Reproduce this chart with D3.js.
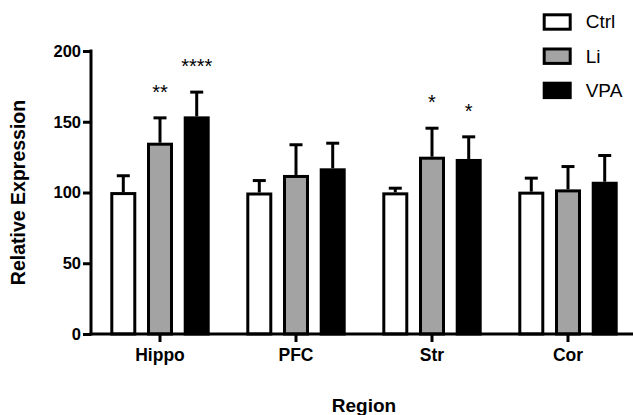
<!DOCTYPE html>
<html><head><meta charset="utf-8">
<script src="https://cdn.jsdelivr.net/npm/d3@7"></script>
<style>
html,body{margin:0;padding:0;background:#fff;}
svg{display:block;font-family:"Liberation Sans",Arial,sans-serif;}
</style></head>
<body>
<svg id="chart" width="633" height="415"></svg>
<script>
const regions = ["Hippo", "PFC", "Str", "Cor"];
const series = ["Ctrl", "Li", "VPA"];
const ctrlMean = [100.3, 100.0, 100.1, 100.6];
const ctrlErr  = [12.6, 9.5, 4.0, 10.6];
const liMean   = [135.2, 112.4, 125.3, 102.2];
const liErr    = [18.6, 22.4, 21.2, 17.2];
const vpaMean  = [153.8, 117.1, 123.7, 107.6];
const vpaErr   = [18.2, 18.8, 16.7, 19.6];
const ctrlSig  = ["", "", "", ""];
const liSig    = ["**", "", "*", ""];
const vpaSig   = ["****", "", "*", ""];
const yTicks   = [0, 50, 100, 150, 200];
const yTitle = "Relative Expression";
const xTitle = "Region";

const fills = {Ctrl: "#ffffff", Li: "#a3a3a3", VPA: "#000000"};
const means = {Ctrl: ctrlMean, Li: liMean, VPA: vpaMean};
const errs = {Ctrl: ctrlErr, Li: liErr, VPA: vpaErr};
const sigs = {Ctrl: ctrlSig, Li: liSig, VPA: vpaSig};

const rows = [];
regions.forEach((r, i) => series.forEach(s => rows.push({
  region: r, series: s, mean: means[s][i], err: errs[s][i], sig: sigs[s][i]
})));

const svg = d3.select("#chart");
const x = d3.scaleBand().domain(regions).range([92, 636]).padding(0);
const inner = d3.scaleBand().domain(series).range([-49.7, 49.7]).paddingInner(0.292).paddingOuter(0);
const y = d3.scaleLinear().domain([0, 200]).range([334, 51]);
const SW = 3;

const cx = d => x(d.region) + x.bandwidth() / 2 + inner(d.series);

// bars
svg.append("g").selectAll("rect").data(rows).join("rect")
  .attr("x", d => cx(d) + SW / 2)
  .attr("width", inner.bandwidth() - SW)
  .attr("y", d => y(d.mean) + SW / 2)
  .attr("height", d => y(0) - y(d.mean) - SW / 2)
  .attr("fill", d => fills[d.series])
  .attr("stroke", "#000").attr("stroke-width", SW);

// error bars
const eb = svg.append("g").attr("stroke", "#000").attr("stroke-width", SW);
eb.selectAll("line.v").data(rows).join("line").attr("class", "v")
  .attr("x1", d => cx(d) + inner.bandwidth() / 2)
  .attr("x2", d => cx(d) + inner.bandwidth() / 2)
  .attr("y1", d => y(d.mean))
  .attr("y2", d => y(d.mean + d.err) + SW / 2);
eb.selectAll("line.c").data(rows).join("line").attr("class", "c")
  .attr("x1", d => cx(d) + inner.bandwidth() / 2 - 6.5)
  .attr("x2", d => cx(d) + inner.bandwidth() / 2 + 6.5)
  .attr("y1", d => y(d.mean + d.err) + SW / 2)
  .attr("y2", d => y(d.mean + d.err) + SW / 2);

// significance
svg.append("g").selectAll("text").data(rows.filter(d => d.sig)).join("text")
  .attr("x", d => cx(d) + inner.bandwidth() / 2)
  .attr("y", d => y(d.mean + d.err) - 17.5)
  .attr("text-anchor", "middle")
  .attr("font-size", 20)
  .text(d => d.sig);

// axes
const yAxis = svg.append("g").attr("transform", "translate(91,0)")
  .call(d3.axisLeft(y).tickValues(yTicks).tickSize(8).tickSizeOuter(0).tickPadding(2));
const xAxis = svg.append("g").attr("transform", "translate(0,334)")
  .call(d3.axisBottom(x).tickSize(8).tickSizeOuter(0).tickPadding(7));
[yAxis, xAxis].forEach(g => {
  g.selectAll("path,line").attr("stroke", "#000").attr("stroke-width", SW);
  g.selectAll("text").attr("fill", "#000").attr("font-weight", "bold")
    .attr("font-family", "Liberation Sans, Arial, sans-serif");
});
yAxis.selectAll("text").attr("font-size", 16.5);
xAxis.selectAll("text").attr("font-size", 17.5);
xAxis.select("path.domain").attr("d", "M" + 89.5 + ",0H636");
yAxis.select("path.domain").attr("d", "M0," + (y(200) - 1.5) + "V" + (y(0) + 1.5));

// titles
svg.append("text")
  .attr("transform", "translate(25," + ((y(0) + y(200)) / 2) + ") rotate(-90)")
  .attr("text-anchor", "middle").attr("font-weight", "bold").attr("font-size", 19.5)
  .text(yTitle);
svg.append("text")
  .attr("x", 364).attr("y", 411.7)
  .attr("text-anchor", "middle").attr("font-weight", "bold").attr("font-size", 19)
  .text(xTitle);

// legend
const lg = svg.append("g").attr("transform", "translate(544.2,14.8)");
const li = lg.selectAll("g").data(series).join("g")
  .attr("transform", (d, i) => "translate(0," + (i * 34.2) + ")");
li.append("rect").attr("width", 26).attr("height", 14.4)
  .attr("fill", d => fills[d]).attr("stroke", "#000").attr("stroke-width", SW);
li.append("text").attr("x", 41.5).attr("y", 13.5).attr("font-size", 19).text(d => d);
</script>
</body></html>
